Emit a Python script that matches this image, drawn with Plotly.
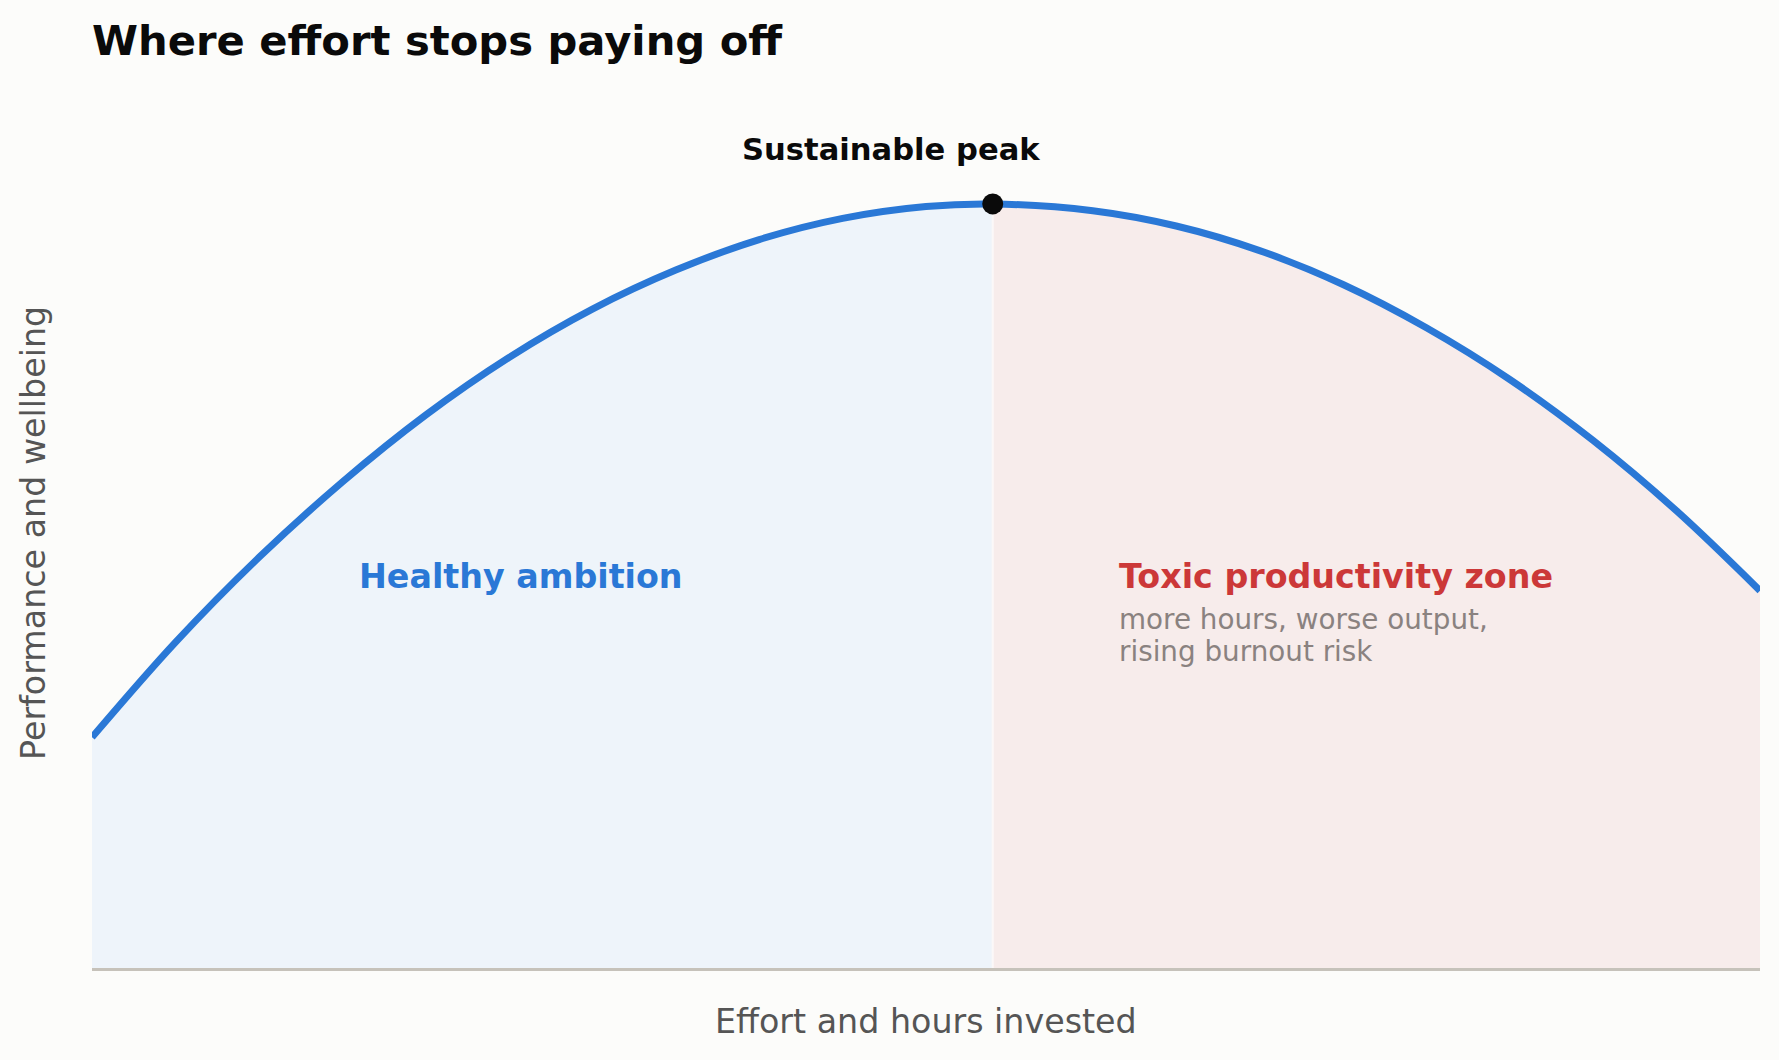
"""Effort vs performance curve: healthy ambition vs toxic productivity."""

import plotly.graph_objects as go

# effort (0-100 across the axis) and performance readings along the curve
effort = [0, 5, 10, 15, 20, 25, 30, 35, 40, 45, 50, 54,
          60, 65, 70, 75, 80, 85, 90, 95, 100]
performance = [27.2, 38.4, 48.4, 57.3, 65.2, 72.0, 77.7, 82.3, 85.9, 88.4, 89.8, 90.1,
               89.3, 87.5, 84.6, 80.6, 75.5, 69.4, 62.2, 53.9, 44.5]

peak_effort = 54
peak_value = 90.1

BLUE = "#2a78d6"
RED = "#cc3838"
BG = "#fcfcfa"
FONT = "DejaVu Sans"

left_x = [x for x in effort if x <= peak_effort]
left_y = performance[:len(left_x)]
right_x = [x for x in effort if x >= peak_effort]
right_y = performance[len(left_x) - 1:]

fig = go.Figure()

fig.add_trace(go.Scatter(
    x=left_x, y=left_y, mode="lines", line=dict(width=0, shape="spline"),
    fill="tozeroy", fillcolor="#eef4fa", hoverinfo="skip", showlegend=False,
))
fig.add_trace(go.Scatter(
    x=right_x, y=right_y, mode="lines", line=dict(width=0, shape="spline"),
    fill="tozeroy", fillcolor="#f7eceb", hoverinfo="skip", showlegend=False,
))
# thin separator at the peak
fig.add_trace(go.Scatter(
    x=[peak_effort, peak_effort], y=[0, peak_value], mode="lines",
    line=dict(color="#fbf8f8", width=2), hoverinfo="skip", showlegend=False,
))
fig.add_trace(go.Scatter(
    x=effort, y=performance, mode="lines",
    line=dict(color=BLUE, width=7, shape="spline"), showlegend=False,
))
fig.add_trace(go.Scatter(
    x=[peak_effort], y=[peak_value], mode="markers",
    marker=dict(color="#0a0a0a", size=21), showlegend=False,
))

annotations = [
    dict(x=47.9, y=96.5, text="<b>Sustainable peak</b>", showarrow=False,
         xanchor="center", yanchor="middle", font=dict(size=30.6, color="#0a0a0a")),
    dict(x=15.9, y=46.2, text="<b>Healthy ambition</b>", showarrow=False,
         xanchor="left", yanchor="middle", font=dict(size=33.3, color=BLUE)),
    dict(x=61.45, y=46.2, text="<b>Toxic productivity zone</b>", showarrow=False,
         xanchor="left", yanchor="middle", font=dict(size=33.3, color=RED)),
    dict(x=61.45, y=41.1, text="more hours, worse output,", showarrow=False,
         xanchor="left", yanchor="middle", font=dict(size=27.8, color="#8a8280")),
    dict(x=61.45, y=37.3, text="rising burnout risk", showarrow=False,
         xanchor="left", yanchor="middle", font=dict(size=27.8, color="#8a8280")),
    dict(x=0.5, y=-0.0625, xref="paper", yref="paper", text="Effort and hours invested",
         showarrow=False, xanchor="center", yanchor="middle",
         font=dict(size=33.3, color="#555555")),
    dict(x=-0.0348, y=0.513, xref="paper", yref="paper", text="Performance and wellbeing",
         showarrow=False, textangle=-90, xanchor="center", yanchor="middle",
         font=dict(size=33.3, color="#555555")),
]

fig.update_layout(
    width=1779,
    height=1060,
    margin=dict(l=92, r=19, t=120, b=92),
    paper_bgcolor=BG,
    plot_bgcolor=BG,
    font=dict(family=FONT),
    title=dict(
        text="<b>Where effort stops paying off</b>",
        x=92 / 1779, xanchor="left", xref="container",
        y=1 - 40 / 1060, yanchor="middle", yref="container",
        font=dict(size=41.7, color="#0a0a0a", family=FONT),
    ),
    xaxis=dict(range=[0, 100], showgrid=False, zeroline=False, showticklabels=False,
               ticks="", showline=True, linecolor="#c6c2ba", linewidth=3),
    yaxis=dict(range=[0, 100], showgrid=False, zeroline=False, showticklabels=False,
               ticks="", showline=False),
    annotations=annotations,
    showlegend=False,
)

# drop the default page margin so the figure fills the window
fig.write_html(
    "out.html",
    config={"displayModeBar": False},
    post_script="document.body.style.margin='0';document.body.style.background='%s';" % BG,
)
